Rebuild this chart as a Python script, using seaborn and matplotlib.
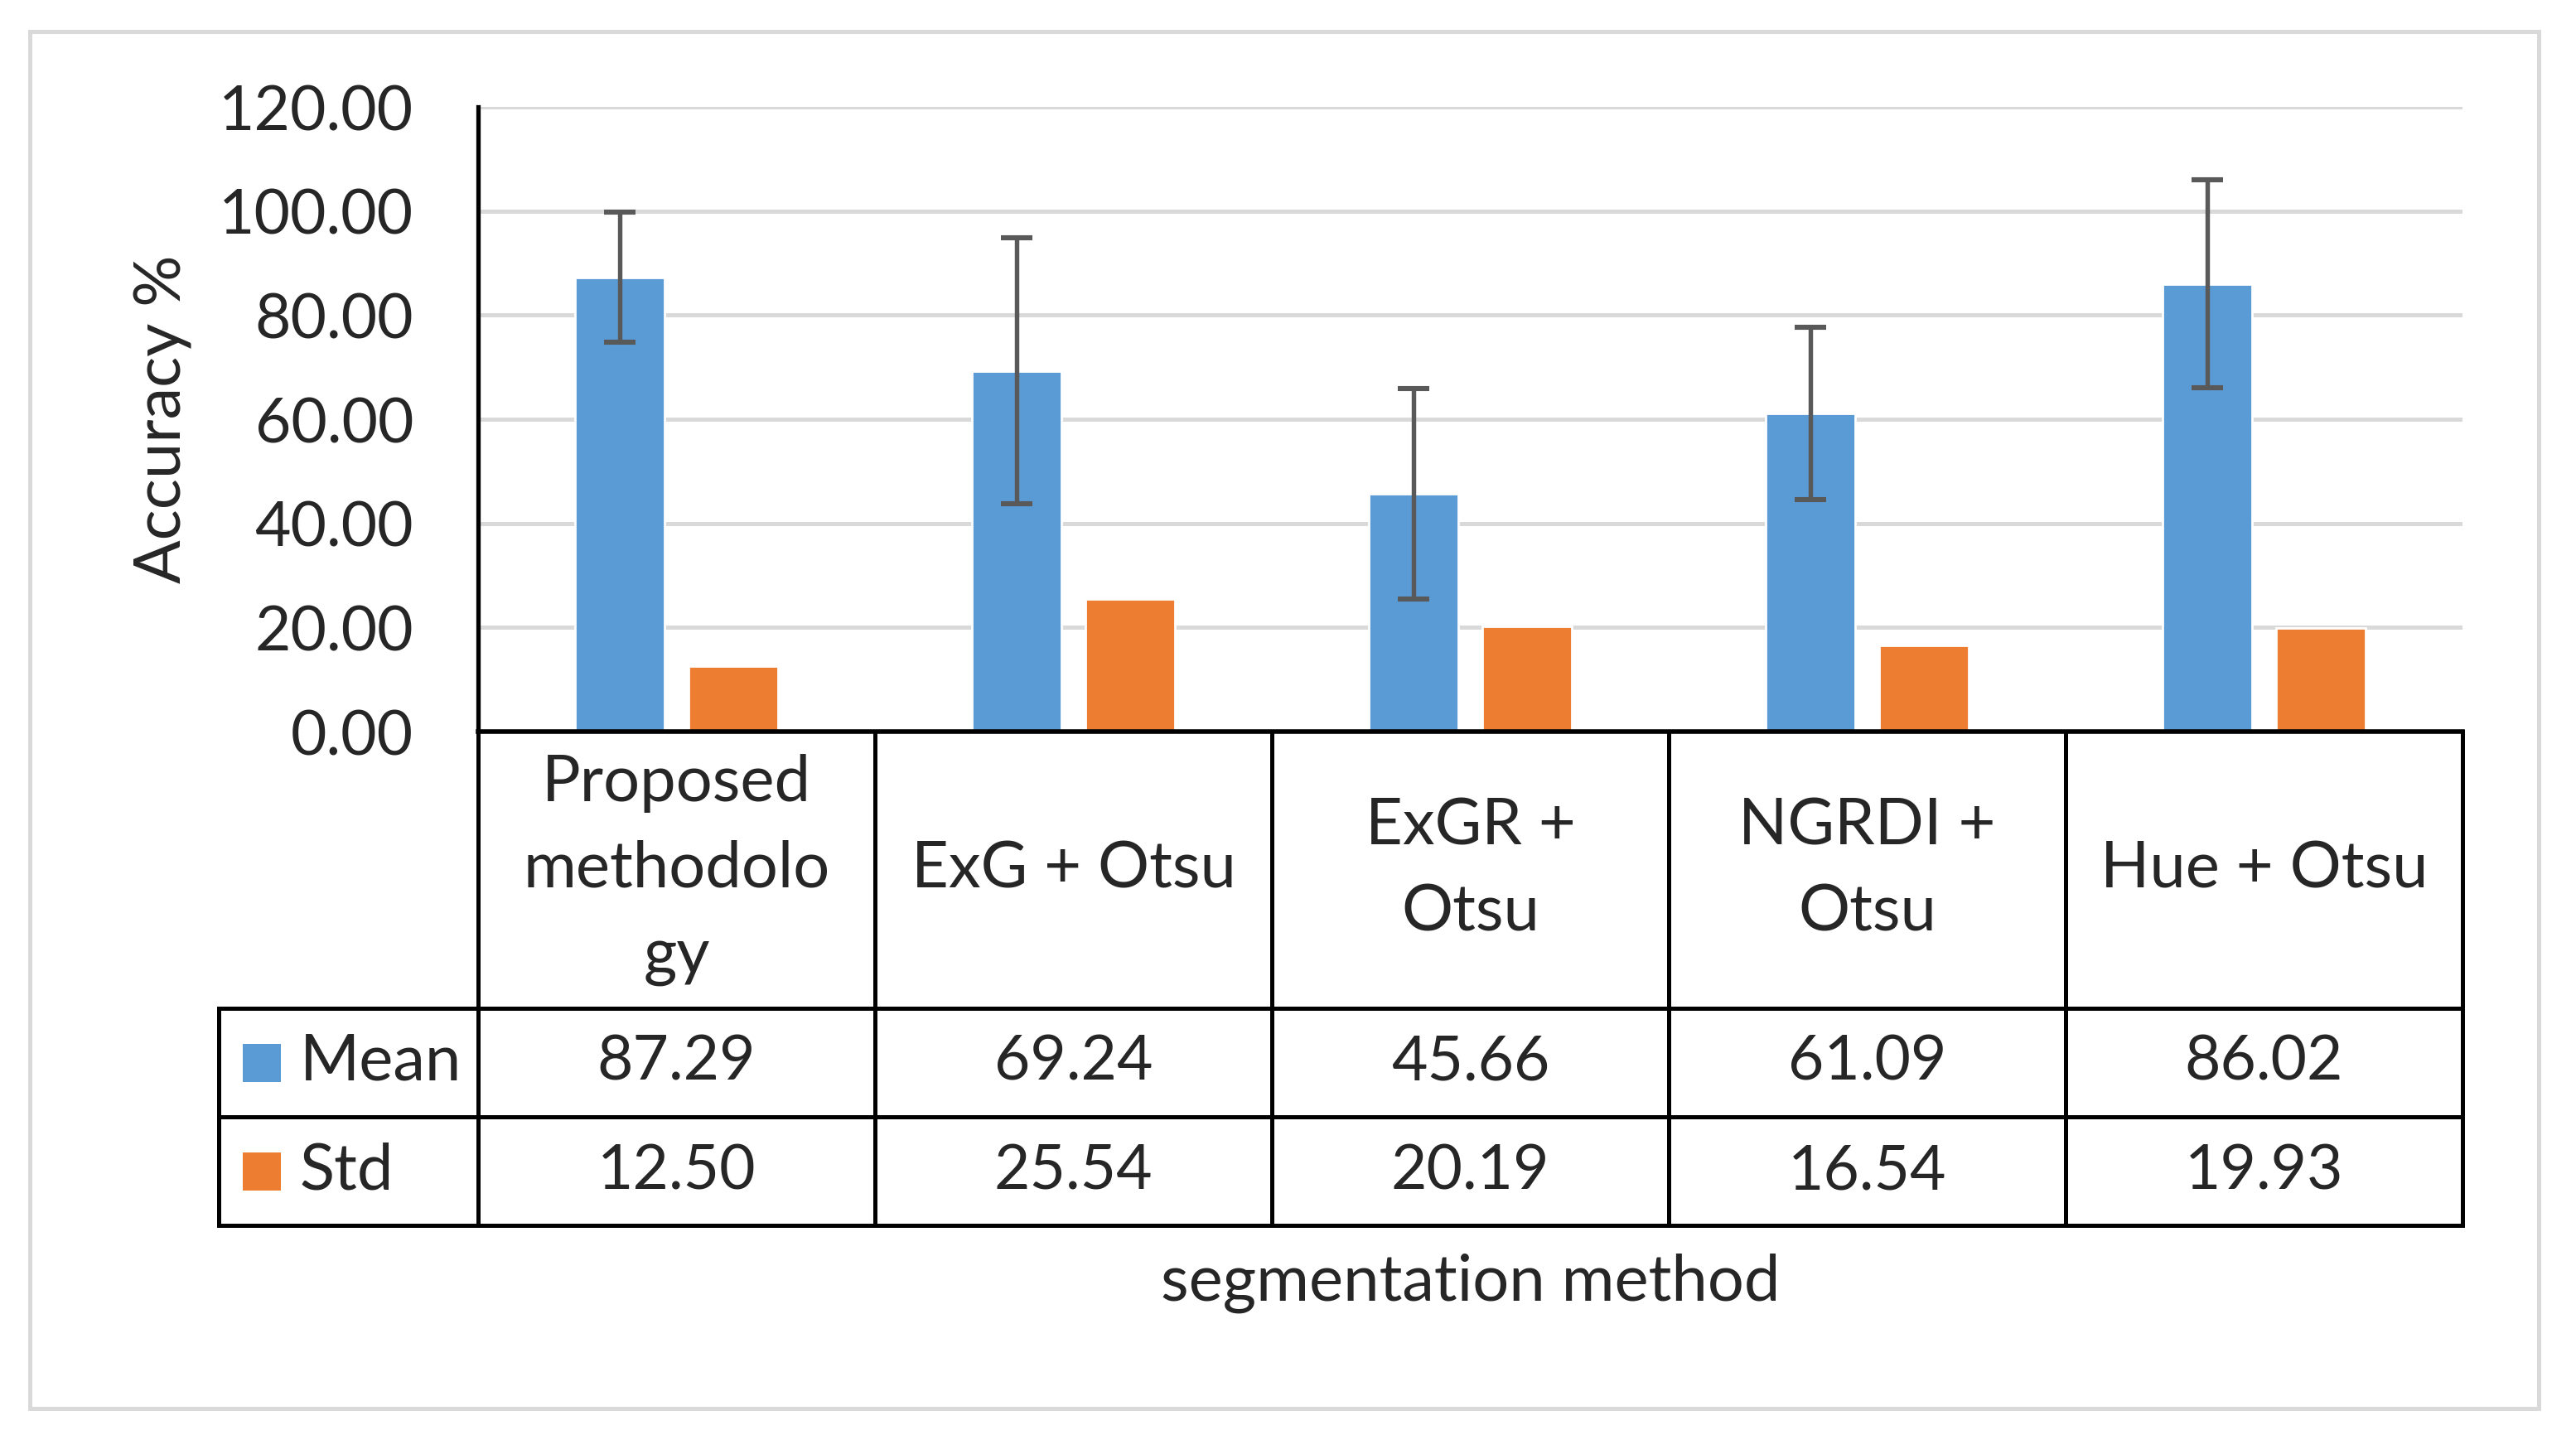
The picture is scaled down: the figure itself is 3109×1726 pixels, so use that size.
import numpy as np
import pandas as pd
import matplotlib
matplotlib.use("Agg")
import matplotlib.pyplot as plt
import matplotlib.transforms as mtransforms
from matplotlib.patches import Rectangle
from matplotlib.lines import Line2D
import seaborn as sns

# ---- data ----
methods = ["Proposed\nmethodolo\ngy", "ExG + Otsu", "ExGR +\nOtsu", "NGRDI +\nOtsu", "Hue + Otsu"]
mean_vals = [87.29, 69.24, 45.66, 61.09, 86.02]
std_vals = [12.50, 25.54, 20.19, 16.54, 19.93]
series = ["Mean", "Std"]
ytick_values = [0, 20, 40, 60, 80, 100, 120]
ylabel = "Accuracy %"
xlabel = "segmentation method"

BLUE = "#5B9BD5"
ORANGE = "#ED7D31"

sns.set_style("white")
plt.rcParams["font.family"] = ["Lato", "DejaVu Sans"]

W, H, DPI = 3109, 1726, 200
FS = 28      # words
FSN = 27     # numbers
fig = plt.figure(figsize=(W / DPI, H / DPI), dpi=DPI)
fig.patch.set_facecolor("white")


def fx(px):
    return px / W


def fy(py):
    return 1 - py / H


# outer border
fig.patches.append(Rectangle((fx(36), fy(1700)), fx(3064) - fx(36), fy(38) - fy(1700),
                             transform=fig.transFigure, fill=False, edgecolor="#D9D9D9",
                             lw=1.8, zorder=0))

ax = fig.add_axes([fx(577), fy(883), fx(2972) - fx(577), fy(129) - fy(883)])

df = pd.DataFrame({
    "method": methods * 2,
    "value": mean_vals + std_vals,
    "stat": [series[0]] * len(methods) + [series[1]] * len(methods),
})

sns.barplot(data=df, x="method", y="value", hue="stat", palette=[BLUE, ORANGE],
            saturation=1, width=0.572, gap=0.217, errorbar=None, legend=False,
            ax=ax, zorder=3)

# error bars on Mean bars (+/- std)
mean_bars = ax.containers[0]
xs = [p.get_x() + p.get_width() / 2 for p in mean_bars]
ax.errorbar(xs, mean_vals, yerr=std_vals, fmt="none", ecolor="#595959",
            elinewidth=1.95, capsize=6.7, capthick=2.2, zorder=5)

ax.set_xlim(-0.5, len(methods) - 0.5)
ax.set_ylim(0, 120)
ax.set_yticks(ytick_values)
ax.set_yticklabels([f"{v:.2f}" for v in ytick_values])
ax.set_xticks([])
ax.set_xlabel("")
ax.set_ylabel("")
ax.tick_params(axis="y", length=0, pad=28, labelsize=FSN)
ax.yaxis.grid(True, color="#D9D9D9", lw=1.8)
ax.set_axisbelow(True)
for s in ["top", "right"]:
    ax.spines[s].set_visible(False)
ax.spines["left"].set_color("black")
ax.spines["left"].set_linewidth(1.9)
ax.spines["bottom"].set_color("black")
ax.spines["bottom"].set_linewidth(2.0)
ax.spines["bottom"].set_zorder(6)

fig.text(fx(197), fy(506), ylabel, rotation=90, ha="center", va="center", fontsize=FS)

# ---- data table below ----
blend = mtransforms.blended_transform_factory(ax.transData, fig.transFigure)
LW = 1.8
y_top, y_h1, y_h2, y_bot = 883, 1217, 1348, 1479
# vertical lines at category boundaries
for k in range(len(methods) + 1):
    fig.add_artist(Line2D([k - 0.5, k - 0.5], [fy(y_top), fy(y_bot)], transform=blend,
                          color="black", lw=LW, solid_capstyle="projecting"))
# legend column left edge
fig.add_artist(Line2D([fx(264), fx(264)], [fy(y_h1), fy(y_bot)], transform=fig.transFigure,
                      color="black", lw=LW, solid_capstyle="projecting"))
# horizontal lines
for yy in [y_h1, y_h2, y_bot]:
    fig.add_artist(Line2D([fx(264), fx(2972)], [fy(yy), fy(yy)], transform=fig.transFigure,
                          color="black", lw=LW, solid_capstyle="projecting"))

# header labels
for k, m in enumerate(methods):
    fig.text(k, fy((y_top + y_h1) / 2), m, transform=blend, ha="center", va="center",
             fontsize=FS, linespacing=1.58)

# rows
row_centers = [(y_h1 + y_h2) / 2, (y_h2 + y_bot) / 2]
for r, (name, vals, col) in enumerate(zip(series, [mean_vals, std_vals], [BLUE, ORANGE])):
    yc = row_centers[r]
    fig.patches.append(Rectangle((fx(293), fy(yc + 23)), 46 / W, 46 / H,
                                 transform=fig.transFigure, color=col, lw=0))
    fig.text(fx(362), fy(yc), name, ha="left", va="center", fontsize=FS)
    for k, v in enumerate(vals):
        fig.text(k, fy(yc), f"{v:.2f}", transform=blend, ha="center", va="center", fontsize=FSN)

fig.text(np.mean(ax.get_xlim()), fy(1549), xlabel, transform=blend, ha="center", va="center",
         fontsize=FS)

fig.savefig("out.png", dpi=DPI, facecolor="white")
